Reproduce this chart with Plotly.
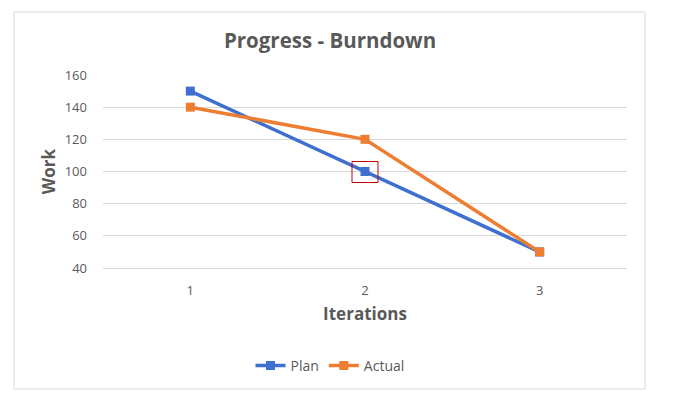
import plotly.graph_objects as go

# data
ITERATIONS = [1, 2, 3]
PLAN = [150, 100, 50]
ACTUAL = [140, 120, 50]
Y_TICKS = [40, 60, 80, 100, 120, 140, 160]

# the page puts the figure 8px in from the top-left corner (body margin)
OFF = 8
W, H = 677 - 2 * OFF, 411 - 2 * OFF
# plot area edges, in reference-screenshot pixels
PX_LEFT, PX_RIGHT, PX_TOP, PX_BOTTOM = 103, 627, 75, 268
L, T = PX_LEFT - OFF, PX_TOP - OFF
R, B = W - (PX_RIGHT - OFF), H - (PX_BOTTOM - OFF)
FONT = "'Open Sans', Lato, sans-serif"
GREY = "#595959"


def px_to_paper_x(px):
    return (px - PX_LEFT) / (PX_RIGHT - PX_LEFT)


def px_to_paper_y(py):
    return (PX_BOTTOM - py) / (PX_BOTTOM - PX_TOP)


def main():
    fig = go.Figure()

    fig.add_trace(go.Scatter(
        x=ITERATIONS, y=PLAN, name="Plan", mode="lines+markers",
        line=dict(color="#3F6FCF", width=3.5),
        marker=dict(symbol="square", size=9, color="#3F6FCF"),
    ))
    fig.add_trace(go.Scatter(
        x=ITERATIONS, y=ACTUAL, name="Actual", mode="lines+markers",
        line=dict(color="#ED7D31", width=3.5),
        marker=dict(symbol="square", size=9, color="#ED7D31"),
    ))

    # outer chart border
    fig.add_shape(
        type="rect", xref="paper", yref="paper",
        x0=px_to_paper_x(14), x1=px_to_paper_x(645),
        y0=px_to_paper_y(389), y1=px_to_paper_y(12),
        line=dict(color="#D9D9D9", width=1), layer="below",
    )

    # red highlight box around Plan at iteration 2
    fig.add_shape(
        type="rect", xref="x", yref="y",
        xsizemode="pixel", ysizemode="pixel",
        xanchor=ITERATIONS[1], yanchor=PLAN[1],
        x0=-13, x1=13, y0=-11, y1=10,
        line=dict(color="#C00000", width=1),
    )

    fig.update_layout(
        width=W, height=H,
        margin=dict(l=L, r=R, t=T, b=B),
        paper_bgcolor="white", plot_bgcolor="white",
        font=dict(family=FONT, color=GREY, size=13),
        title=dict(
            text="<b>Progress - Burndown</b>",
            x=(330 - OFF) / W, xanchor="center", xref="container",
            y=1 - (41 - OFF) / H, yanchor="middle", yref="container",
            font=dict(size=20.5, color=GREY),
        ),
        showlegend=True,
        legend=dict(
            orientation="h", xref="container", yref="container",
            x=(330 - OFF) / W, xanchor="center", y=1 - (366 - OFF) / H, yanchor="middle",
            font=dict(size=14, color=GREY),
            itemwidth=30, tracegroupgap=0,
        ),
    )
    fig.update_xaxes(
        range=[0.5, 3.5], tickvals=ITERATIONS, ticktext=[str(i) for i in ITERATIONS],
        showgrid=False, zeroline=False, showline=True, linecolor="#D9D9D9",
        ticks="", ticklabelstandoff=10,
        title=dict(text="<b>Iterations</b>", font=dict(size=17, color=GREY), standoff=10),
    )
    fig.update_yaxes(
        range=[40, 160], tickvals=Y_TICKS,
        showgrid=True, gridcolor="#D9D9D9", zeroline=False, showline=False,
        ticks="", ticklabelstandoff=15,
        title=dict(text="<b>Work</b>", font=dict(size=17, color=GREY), standoff=4),
    )

    fig.write_html("out.html")


if __name__ == "__main__":
    main()
